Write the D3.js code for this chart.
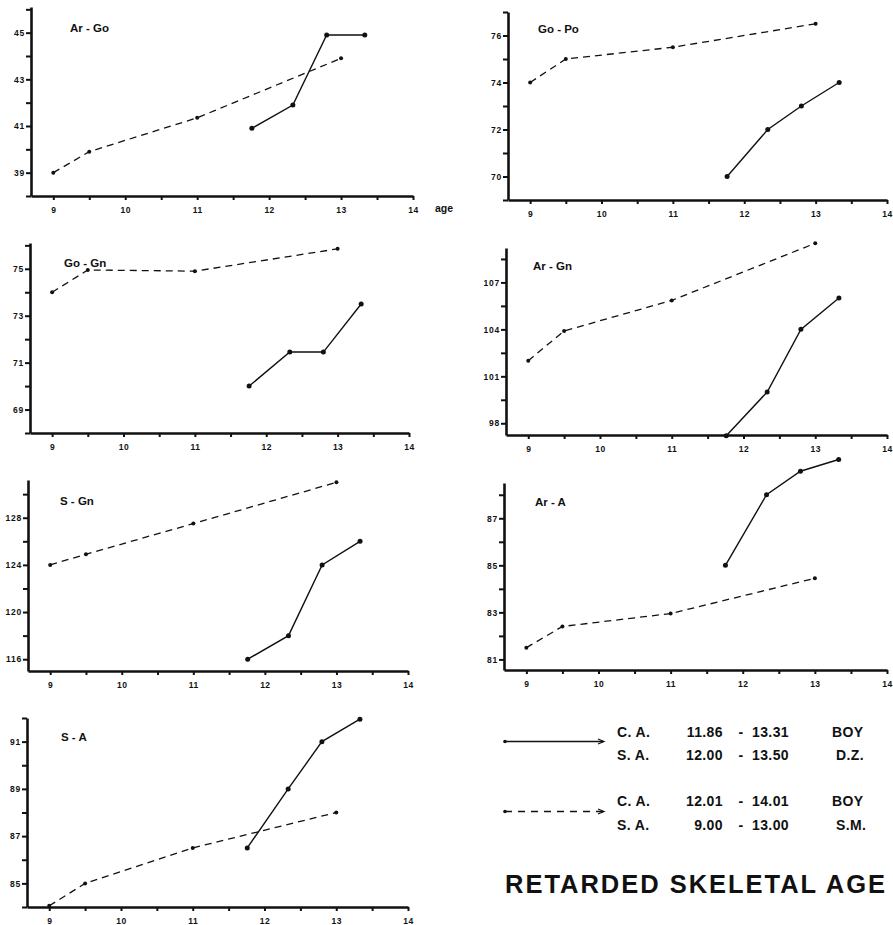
<!DOCTYPE html>
<html><head><meta charset="utf-8">
<script src="https://cdn.jsdelivr.net/npm/d3@7"></script>
<style>
body{margin:0;background:#fff;}
svg{display:block;}
text{font-family:"Liberation Sans",Arial,sans-serif;font-weight:bold;fill:#111;}
</style></head>
<body>
<svg id="chart" width="893" height="925"></svg>
<script>
// ---- data ----
const panelTitles = ["Ar - Go","Go - Po","Go - Gn","Ar - Gn","S - Gn","Ar - A","S - A"];
const agesDZ = [11.76, 12.33, 12.8, 13.33];   // solid line (D.Z.)
const agesSM = [9, 9.5, 11, 13];              // dashed line (S.M.)
const valuesDZ = [
  [40.9, 41.9, 44.9, 44.9],
  [70, 72, 73, 74],
  [70, 71.45, 71.45, 73.5],
  [97.2, 100, 104, 106],
  [116, 118, 124, 126],
  [85, 88, 89, 89.5],
  [86.5, 89, 91, 91.95]
];
const valuesSM = [
  [39, 39.9, 41.35, 43.9],
  [74, 75, 75.5, 76.5],
  [74, 74.95, 74.9, 75.85],
  [102, 103.9, 105.85, 109.5],
  [124, 124.9, 127.5, 131],
  [81.5, 82.4, 82.95, 84.45],
  [84.05, 85, 86.5, 88]
];
const yTickLabels = [
  [39, 41, 43, 45],
  [70, 72, 74, 76],
  [69, 71, 73, 75],
  [98, 101, 104, 107],
  [116, 120, 124, 128],
  [81, 83, 85, 87],
  [85, 87, 89, 91]
];
const yMinorStep = [1, 1, 1, 1.5, 2, 1, 1];
const yDomains = [[38, 46.1],[69, 77],[68, 76.1],[97.25, 109.2],[115, 131.2],[80.55, 88.5],[84, 92]];
const xTickLabels = [9, 10, 11, 12, 13, 14];
const xDomain = [8.69, 14];
const legendRows = [
  [["C. A.","11.86","13.31","BOY"],["S. A.","12.00","13.50","D.Z."]],
  [["C. A.","12.01","14.01","BOY"],["S. A.","9.00","13.00","S.M."]]
];
const mainTitle = "RETARDED SKELETAL AGE";

// ---- layout ----
const boxes = [
  {l:31, r:413, t:7,   b:196},
  {l:508,r:887, t:12,  b:200},
  {l:30, r:409, t:243, b:433},
  {l:506,r:887, t:248, b:435},
  {l:28, r:408, t:480, b:671},
  {l:504,r:887, t:483, b:670},
  {l:27, r:408, t:718, b:907}
];
const titleOff = [[39,25],[30,21],[34,24],[27,22],[32,25],[31,23],[34,23]];

const svg = d3.select("#chart");

panelTitles.forEach((title, i) => {
  const bx = boxes[i];
  const x = d3.scaleLinear().domain(xDomain).range([bx.l, bx.r]);
  const y = d3.scaleLinear().domain(yDomains[i]).range([bx.b, bx.t]);
  const g = svg.append("g");

  // x axis
  const xTicks = d3.range(9, 14.001, 0.5);
  const xa = g.append("g").attr("transform", `translate(0,${bx.b})`)
    .call(d3.axisBottom(x).tickValues(xTicks).tickSize(4).tickSizeOuter(0)
      .tickFormat(d => xTickLabels.includes(d) ? d : ""));
  xa.select(".domain").attr("stroke", "#111").attr("stroke-width", 2.6);
  xa.selectAll(".tick line").attr("stroke", "#111").attr("stroke-width", 2);
  xa.selectAll(".tick text").attr("font-size", 8.5).attr("dy", "1.2em").attr("letter-spacing", 0.5)
    .attr("font-family", "Liberation Sans, Arial, sans-serif").attr("font-weight", "bold").attr("fill", "#111");

  // y axis
  const [y0, y1] = yDomains[i];
  const base = yTickLabels[i][0];
  const step = yMinorStep[i];
  const yTicks = [];
  for (let v = base - Math.floor((base - y0) / step) * step; v <= y1 + 1e-9; v += step) yTicks.push(+v.toFixed(3));
  const ya = g.append("g").attr("transform", `translate(${bx.l},0)`)
    .call(d3.axisLeft(y).tickValues(yTicks).tickSize(5).tickSizeOuter(0)
      .tickFormat(d => yTickLabels[i].includes(d) ? d : ""));
  ya.select(".domain").attr("stroke", "#111").attr("stroke-width", 2.6);
  ya.selectAll(".tick line").attr("stroke", "#111").attr("stroke-width", 2);
  ya.selectAll(".tick text").attr("font-size", 8.5).attr("x", -6).attr("letter-spacing", 0.8)
    .attr("font-family", "Liberation Sans, Arial, sans-serif").attr("font-weight", "bold").attr("fill", "#111");

  // title
  g.append("text").attr("x", bx.l + titleOff[i][0]).attr("y", bx.t + titleOff[i][1])
    .attr("font-size", 11.5).attr("font-weight", 900).text(title);

  const line = d3.line().x(d => x(d[0])).y(d => y(d[1]));
  const sm = agesSM.map((a, k) => [a, valuesSM[i][k]]);
  const dz = agesDZ.map((a, k) => [a, valuesDZ[i][k]]);

  g.append("path").attr("d", line(sm)).attr("fill", "none").attr("stroke", "#111")
    .attr("stroke-width", 1.3).attr("stroke-dasharray", "7,5");
  g.append("path").attr("d", line(dz)).attr("fill", "none").attr("stroke", "#111")
    .attr("stroke-width", 1.4);
  g.selectAll("circle.sm").data(sm).join("circle").attr("class", "sm")
    .attr("cx", d => x(d[0])).attr("cy", d => y(d[1])).attr("r", 2).attr("fill", "#111");
  g.selectAll("circle.dz").data(dz).join("circle").attr("class", "dz")
    .attr("cx", d => x(d[0])).attr("cy", d => y(d[1])).attr("r", 2.5).attr("fill", "#111");

  if (i === 0) {
    g.append("text").attr("x", 435).attr("y", 212).attr("font-size", 10.5).attr("font-weight", 900).text("age");
  }
});

// ---- legend ----
const legY = [741.5, 811.5];
const rowBase = [[737, 760], [806, 830]];
legendRows.forEach((rows, j) => {
  const ln = svg.append("line").attr("x1", 505).attr("x2", 603).attr("y1", legY[j]).attr("y2", legY[j])
    .attr("stroke", "#111").attr("stroke-width", 1.3);
  if (j === 1) ln.attr("stroke-dasharray", "7,6");
  svg.append("circle").attr("cx", 505).attr("cy", legY[j]).attr("r", 1.8).attr("fill", "#111");
  svg.append("path").attr("d", `M598,${legY[j]-2.5} L604,${legY[j]} L598,${legY[j]+2.5}`)
    .attr("fill", "none").attr("stroke", "#111").attr("stroke-width", 1.2);
  rows.forEach((r, k) => {
    const yy = rowBase[j][k];
    const t = (x, s, anchor) => svg.append("text").attr("x", x).attr("y", yy).attr("font-size", 14)
      .attr("letter-spacing", 0.4).attr("text-anchor", anchor || "start").text(s);
    t(617, r[0]);
    t(723, r[1], "end");
    t(741, "-", "middle");
    t(752, r[2]);
    t(k === 0 ? 832 : 836, r[3]);
  });
});
svg.append("text").attr("x", 505).attr("y", 893).attr("font-size", 25.5).attr("font-weight", "bold")
  .attr("textLength", 380).attr("lengthAdjust", "spacing").text(mainTitle);
</script>
</body></html>
